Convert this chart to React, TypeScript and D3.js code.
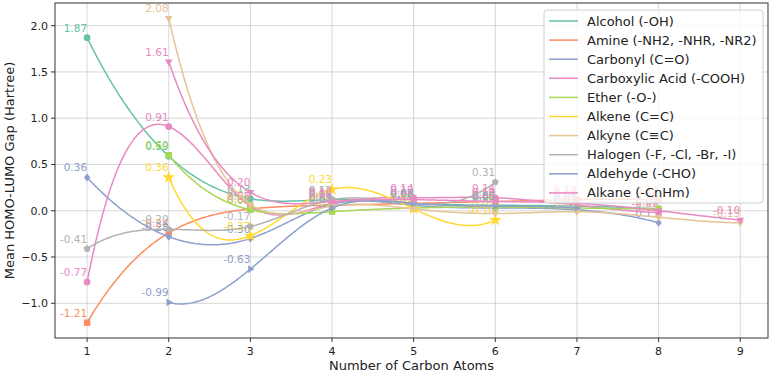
import React, { useEffect, useRef } from "react";
import * as d3 from "d3";

// chart data
const seriesNames = [
  "Alcohol (-OH)",
  "Amine (-NH2, -NHR, -NR2)",
  "Carbonyl (C=O)",
  "Carboxylic Acid (-COOH)",
  "Ether (-O-)",
  "Alkene (C=C)",
  "Alkyne (C≡C)",
  "Halogen (-F, -Cl, -Br, -I)",
  "Aldehyde (-CHO)",
  "Alkane (-CnHm)",
];
const seriesColors = [
  "#66c2a5", "#fc8d62", "#8da0cb", "#e78ac3", "#a6d854",
  "#ffd92f", "#e5c494", "#b3b3b3", "#8da0cb", "#e78ac3",
];
const seriesMarkers = ["circle", "square", "diamond", "circle", "square", "star", "tridown", "pentagon", "triright", "tridown"];
const seriesStart = [1, 1, 1, 1, 2, 2, 2, 1, 2, 2];

const alcohol = [1.87, 0.59, 0.13, 0.12, 0.08, 0.06, 0.05, 0.02];
const amine = [-1.21, -0.24, 0.02, 0.06, 0.08, 0.1, 0.12, 0.12];
const carbonyl = [0.36, -0.28, -0.3, 0.07, 0.06, 0.03, 0.01, -0.13];
const carboxylic = [-0.77, 0.91, 0.05, 0.08, 0.14, 0.14, 0.06, -0.02];
const ether = [0.6, 0.01, -0.01, 0.03, 0.04, 0.03, 0.02];
const alkene = [0.36, -0.27, 0.23, 0.02, -0.1];
const alkyne = [2.08, 0.07, 0.05, 0.02, -0.03, -0.01, -0.07, -0.13];
const halogen = [-0.41, -0.2, -0.17, 0.12, 0.08, 0.31];
const aldehyde = [-0.99, -0.63, 0.03, 0.08, 0.05, 0.03];
const alkane = [1.61, 0.2, 0.1, 0.12, 0.1, 0.08, 0.0, -0.1];
const seriesValues = [alcohol, amine, carbonyl, carboxylic, ether, alkene, alkyne, halogen, aldehyde, alkane];

const xTicks = [1, 2, 3, 4, 5, 6, 7, 8, 9];
const yTicks = [-1.0, -0.5, 0.0, 0.5, 1.0, 1.5, 2.0];

const W = 773;
const H = 374;

// not-a-knot cubic spline, like scipy make_interp_spline(k=3)
function spline(xs: number[], ys: number[], steps = 300): [number, number][] {
  const n = xs.length;
  const h = xs.slice(1).map((x, i) => x - xs[i]);
  const A: number[][] = Array.from({ length: n }, () => new Array(n).fill(0));
  const b = new Array(n).fill(0);
  A[0][0] = h[1]; A[0][1] = -(h[0] + h[1]); A[0][2] = h[0];
  A[n - 1][n - 3] = h[n - 2]; A[n - 1][n - 2] = -(h[n - 3] + h[n - 2]); A[n - 1][n - 1] = h[n - 3];
  for (let i = 1; i < n - 1; i++) {
    A[i][i - 1] = h[i - 1];
    A[i][i] = 2 * (h[i - 1] + h[i]);
    A[i][i + 1] = h[i];
    b[i] = 6 * ((ys[i + 1] - ys[i]) / h[i] - (ys[i] - ys[i - 1]) / h[i - 1]);
  }
  // gaussian elimination
  for (let c = 0; c < n; c++) {
    let p = c;
    for (let r = c + 1; r < n; r++) if (Math.abs(A[r][c]) > Math.abs(A[p][c])) p = r;
    [A[c], A[p]] = [A[p], A[c]];
    [b[c], b[p]] = [b[p], b[c]];
    for (let r = c + 1; r < n; r++) {
      const f = A[r][c] / A[c][c];
      for (let k = c; k < n; k++) A[r][k] -= f * A[c][k];
      b[r] -= f * b[c];
    }
  }
  const M = new Array(n).fill(0);
  for (let r = n - 1; r >= 0; r--) {
    let s = b[r];
    for (let k = r + 1; k < n; k++) s -= A[r][k] * M[k];
    M[r] = s / A[r][r];
  }
  const out: [number, number][] = [];
  const x0 = xs[0], x1 = xs[n - 1];
  for (let s = 0; s <= steps; s++) {
    const x = x0 + ((x1 - x0) * s) / steps;
    let i = 0;
    while (i < n - 2 && x > xs[i + 1]) i++;
    const hi = h[i];
    const a = xs[i + 1] - x, c = x - xs[i];
    const y =
      (M[i] * a * a * a) / (6 * hi) +
      (M[i + 1] * c * c * c) / (6 * hi) +
      (ys[i] / hi - (M[i] * hi) / 6) * a +
      (ys[i + 1] / hi - (M[i + 1] * hi) / 6) * c;
    out.push([x, y]);
  }
  return out;
}

function markerPath(kind: string, s: number): string {
  switch (kind) {
    case "square":
      return `M${-s},${-s}H${s}V${s}H${-s}Z`;
    case "diamond":
      return `M0,${-s * 1.25}L${s},0L0,${s * 1.25}L${-s},0Z`;
    case "tridown":
      return `M${-s * 1.2},${-s * 0.7}L${s * 1.2},${-s * 0.7}L0,${s * 1.3}Z`;
    case "triright":
      return `M${-s * 0.7},${-s * 1.2}L${s * 1.3},0L${-s * 0.7},${s * 1.2}Z`;
    case "pentagon": {
      const pts = d3.range(5).map((i) => {
        const a = -Math.PI / 2 + (i * 2 * Math.PI) / 5;
        return [Math.cos(a) * s * 1.15, Math.sin(a) * s * 1.15];
      });
      return "M" + pts.map((p) => p.join(",")).join("L") + "Z";
    }
    case "star":
      return d3.symbol(d3.symbolStar, s * s * 5)() as string;
    default:
      return d3.symbol(d3.symbolCircle, Math.PI * s * s * 1.1)() as string;
  }
}

export default function App() {
  const ref = useRef<SVGSVGElement>(null);

  useEffect(() => {
    if (!ref.current) return;
    const svg = d3.select(ref.current);
    svg.selectAll("*").remove();

    const left = 55, right = 768, top = 3, bottom = 338;
    const x = d3.scaleLinear().domain([0.607, 9.34]).range([left, right]);
    const y = d3.scaleLinear().domain([-1.375, 2.245]).range([bottom, top]);
    const font = "'DejaVu Sans', sans-serif";

    svg.append("rect").attr("width", W).attr("height", H).attr("fill", "#fff");

    // grid
    const grid = svg.append("g").attr("stroke", "#b0b0b0").attr("stroke-opacity", 0.55).attr("stroke-width", 0.9);
    xTicks.forEach((t) => grid.append("line").attr("x1", x(t)).attr("x2", x(t)).attr("y1", top).attr("y2", bottom));
    yTicks.forEach((t) => grid.append("line").attr("x1", left).attr("x2", right).attr("y1", y(t)).attr("y2", y(t)));

    const plot = svg.append("g");
    const line = d3.line<[number, number]>().x((d) => x(d[0])).y((d) => y(d[1]));

    seriesValues.forEach((vals, si) => {
      const xs = vals.map((_, i) => seriesStart[si] + i);
      const color = seriesColors[si];
      plot
        .append("path")
        .attr("d", line(spline(xs, vals)))
        .attr("fill", "none")
        .attr("stroke", color)
        .attr("stroke-width", 1.5);
      vals.forEach((v, i) => {
        plot
          .append("path")
          .attr("d", markerPath(seriesMarkers[si], 3.2))
          .attr("transform", `translate(${x(xs[i])},${y(v)})`)
          .attr("fill", color);
        plot
          .append("text")
          .attr("x", x(xs[i]))
          .attr("y", y(v) - 6)
          .attr("text-anchor", "end")
          .attr("font-family", font)
          .attr("font-size", 10.5)
          .attr("fill", color)
          .text(v.toFixed(2).replace("-0.00", "0.00"));
      });
    });

    // spines
    svg
      .append("rect")
      .attr("x", left)
      .attr("y", top)
      .attr("width", right - left)
      .attr("height", bottom - top)
      .attr("fill", "none")
      .attr("stroke", "#333")
      .attr("stroke-width", 1);

    // ticks
    const ax = svg.append("g").attr("font-family", font).attr("font-size", 11).attr("fill", "#222");
    xTicks.forEach((t) => {
      ax.append("line").attr("x1", x(t)).attr("x2", x(t)).attr("y1", bottom).attr("y2", bottom + 4).attr("stroke", "#333");
      ax.append("text").attr("x", x(t)).attr("y", bottom + 17).attr("text-anchor", "middle").text(t);
    });
    yTicks.forEach((t) => {
      ax.append("line").attr("x1", left - 4).attr("x2", left).attr("y1", y(t)).attr("y2", y(t)).attr("stroke", "#333");
      ax.append("text")
        .attr("x", left - 7)
        .attr("y", y(t))
        .attr("dy", "0.35em")
        .attr("text-anchor", "end")
        .text(t.toFixed(1).replace("-", "\u2212"));
    });

    // axis titles
    svg
      .append("text")
      .attr("x", (left + right) / 2)
      .attr("y", 370)
      .attr("text-anchor", "middle")
      .attr("font-family", font)
      .attr("font-size", 13)
      .attr("fill", "#222")
      .text("Number of Carbon Atoms");
    svg
      .append("text")
      .attr("transform", `translate(14,${(top + bottom) / 2}) rotate(-90)`)
      .attr("text-anchor", "middle")
      .attr("font-family", font)
      .attr("font-size", 13)
      .attr("fill", "#222")
      .text("Mean HOMO-LUMO Gap (Hartree)");

    // legend
    const lg = svg.append("g");
    lg.append("rect")
      .attr("x", 544)
      .attr("y", 10)
      .attr("width", 219)
      .attr("height", 193)
      .attr("rx", 3)
      .attr("fill", "#fff")
      .attr("fill-opacity", 0.8)
      .attr("stroke", "#d0d0d0");
    seriesNames.forEach((name, i) => {
      const ry = 21 + i * 19.1;
      lg.append("line").attr("x1", 549).attr("x2", 578).attr("y1", ry).attr("y2", ry).attr("stroke", seriesColors[i]).attr("stroke-width", 1.5);
      lg.append("text")
        .attr("x", 587)
        .attr("y", ry)
        .attr("dy", "0.35em")
        .attr("font-family", font)
        .attr("font-size", 13)
        .attr("fill", "#222")
        .text(name);
    });
  }, []);

  return <svg ref={ref} width={W} height={H} style={{ position: "absolute", left: 0, top: 0 }} />;
}
